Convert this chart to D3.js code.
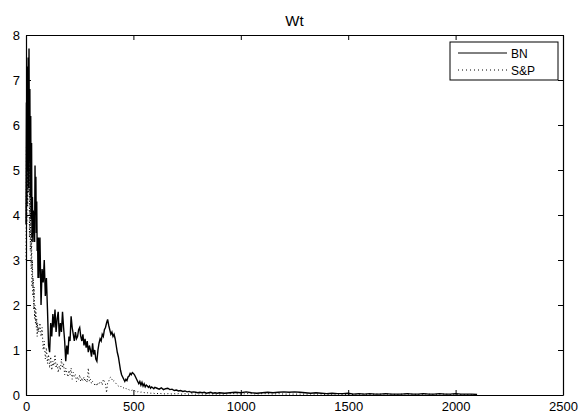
<!DOCTYPE html>
<html>
<head>
<meta charset="utf-8">
<script src="https://cdn.jsdelivr.net/npm/d3@7"></script>
<style>
  html, body { margin: 0; padding: 0; background: #fff; }
  svg { display: block; font-family: "Liberation Sans", Arial, Helvetica, sans-serif; }
</style>
</head>
<body>
<svg id="chart" width="581" height="416"></svg>
<script>
// ---------------- data ----------------
const title = "Wt";
const seriesNames = ["BN", "S&P"];
const xTicks = [0, 500, 1000, 1500, 2000, 2500];
const yTicks = [0, 1, 2, 3, 4, 5, 6, 7, 8];

// sampling segments: [start, step]
const segFirst = [0, 2];     // t = 0..58
const segEarly = [60, 5];    // t = 60..600
const segMid = [610, 10];    // t = 610..900
const segLate = [925, 25];   // t = 925..2100

const bnFirst = [3.8,6.5,4.2,7.3,5.0,7.5,4.6,7.7,5.2,6.8,4.4,6.2,3.9,5.6,3.5,4.4,3.4,4.1,3.6,3.9,
  3.4,5.1,4.0,4.85,3.6,4.3,3.2,3.5,2.6,3.5];
const bnEarly = [2.6,3.5,2.0,2.8,2.5,3.0,2.2,2.6,
  1.9,1.1,0.95,1.6,1.3,1.8,1.5,1.9,1.4,1.7,1.85,1.3,1.6,1.4,1.85,1.5,1.2,0.75,1.1,0.9,
  1.3,1.2,1.75,1.5,1.35,1.2,1.4,1.25,1.3,1.45,1.5,1.3,1.2,1.35,1.1,1.25,1.05,1.2,0.95,1.1,
  1.0,0.85,1.15,0.9,1.0,0.8,0.75,1.0,1.15,1.25,1.2,1.35,1.3,1.45,1.5,1.6,1.68,1.55,1.45,1.35,
  1.4,1.3,1.35,1.25,1.1,0.95,0.85,0.7,0.55,0.45,0.4,0.35,0.3,0.35,0.32,0.4,0.42,0.48,0.45,0.5,
  0.48,0.45,0.4,0.35,0.3,0.25,0.3,0.22,0.28,0.2,0.25,0.18,0.22,0.2,0.17,0.2,0.15,0.18,0.16,0.14,0.17];
const bnMid = [0.15,0.13,0.16,0.12,0.14,0.15,0.12,0.13,0.1,0.11,0.09,0.1,0.08,0.09,0.07,
  0.08,0.06,0.07,0.06,0.05,0.06,0.05,0.06,0.04,0.05,0.06,0.04,0.05,0.04,0.05];
const bnLate = [0.04,0.05,0.06,0.05,0.07,0.05,0.04,0.05,0.06,0.05,0.06,0.07,0.06,0.07,0.06,0.05,
  0.04,0.05,0.04,0.03,0.04,0.03,0.03,0.04,0.02,0.03,0.02,0.03,0.02,0.02,0.03,0.02,0.02,0.02,
  0.03,0.02,0.02,0.03,0.02,0.02,0.03,0.02,0.02,0.03,0.02,0.02,0.02,0.01];

const spFirst = [3.0,5.5,3.8,6.5,4.2,7.0,4.5,6.0,3.5,5.2,3.2,4.5,2.8,3.6,2.4,3.0,2.2,2.6,1.9,2.4,
  1.7,2.0,1.6,1.9,1.5,1.7,1.3,1.6,1.4,1.5];
const spEarly = [1.4,1.6,1.3,1.5,1.0,1.2,0.8,1.05,
  0.7,0.9,0.6,0.85,0.55,0.75,0.65,0.9,0.6,0.7,0.5,0.65,0.55,0.8,0.6,0.7,0.45,0.6,0.5,0.4,
  0.55,0.45,0.6,0.35,0.5,0.4,0.45,0.3,0.4,0.35,0.45,0.3,0.38,0.32,0.4,0.3,0.35,0.28,0.6,0.3,
  0.35,0.25,0.3,0.28,0.22,0.25,0.2,0.27,0.25,0.3,0.28,0.22,0.35,0.3,0.25,0.05,0.27,0.3,0.38,0.4,
  0.35,0.3,0.32,0.28,0.25,0.22,0.2,0.18,0.2,0.17,0.15,0.16,0.14,0.15,0.12,0.13,0.11,0.12,0.1,0.11,
  0.09,0.1,0.08,0.09,0.07,0.08,0.07,0.06,0.07,0.06,0.05,0.06,0.05,0.05,0.04,0.05,0.04,0.04,0.03,0.04,0.03];
const spMid = [0.03,0.04,0.03,0.03,0.02,0.03,0.03,0.02,0.03,0.02,0.03,0.02,0.02,0.03,0.02,
  0.02,0.03,0.02,0.02,0.02,0.03,0.02,0.02,0.02,0.03,0.02,0.02,0.02,0.02,0.02];
const spLate = [0.02,0.03,0.03,0.02,0.03,0.03,0.02,0.03,0.03,0.02,0.03,0.02,0.02,0.02,0.02,0.02,
  0.02,0.02,0.02,0.01,0.02,0.02,0.01,0.02,0.01,0.02,0.02,0.01,0.02,0.02,0.02,0.02,0.01,0.02,
  0.02,0.02,0.01,0.02,0.02,0.01,0.02,0.02,0.01,0.02,0.01,0.01,0.01,0.01];

// ---------------- build ----------------
function toPoints(segs) {
  const pts = [];
  segs.forEach(([seg, vals]) => {
    vals.forEach((v, i) => pts.push([seg[0] + i * seg[1], v]));
  });
  return pts;
}
const bn = toPoints([[segFirst, bnFirst], [segEarly, bnEarly], [segMid, bnMid], [segLate, bnLate]]);
const sp = toPoints([[segFirst, spFirst], [segEarly, spEarly], [segMid, spMid], [segLate, spLate]]);

const margin = { left: 26, right: 18, top: 35, bottom: 21 };
const W = 581, H = 416;
const svg = d3.select("#chart");
const x = d3.scaleLinear().domain([0, 2500]).range([margin.left, W - margin.right]);
const y = d3.scaleLinear().domain([0, 8]).range([H - margin.bottom, margin.top]);

const line = d3.line().x(d => x(d[0])).y(d => y(d[1]));

// series
svg.append("path").datum(sp)
  .attr("d", line).attr("fill", "none").attr("stroke", "#000")
  .attr("stroke-width", 1).attr("stroke-dasharray", "1,2.5");
svg.append("path").datum(bn)
  .attr("d", line).attr("fill", "none").attr("stroke", "#000")
  .attr("stroke-width", 1.4).attr("stroke-linejoin", "miter");

// axes (MATLAB style, inward ticks, boxed)
const tickLen = 5;
const fmt = d3.format("d");
const axB = d3.axisBottom(x).tickValues(xTicks).tickFormat(fmt).tickSizeInner(-tickLen).tickSizeOuter(0).tickPadding(7);
const axL = d3.axisLeft(y).tickValues(yTicks).tickFormat(fmt).tickSizeInner(-tickLen).tickSizeOuter(0).tickPadding(6);
const axT = d3.axisTop(x).tickValues(xTicks).tickSizeInner(-tickLen).tickSizeOuter(0).tickFormat("");
const axR = d3.axisRight(y).tickValues(yTicks).tickSizeInner(-tickLen).tickSizeOuter(0).tickFormat("");

function style(g) {
  g.selectAll("path.domain").attr("stroke", "#000").attr("stroke-width", 1.2);
  g.selectAll(".tick line").attr("stroke", "#000").attr("stroke-width", 1);
  g.selectAll(".tick text").attr("fill", "#000").attr("font-size", 13)
    .attr("font-family", "Liberation Sans, Arial, sans-serif");
}
svg.append("g").attr("transform", `translate(0,${y(0)})`).call(axB).call(style);
svg.append("g").attr("transform", `translate(${x(0)},0)`).call(axL).call(style);
svg.append("g").attr("transform", `translate(0,${y(8)})`).call(axT).call(style);
svg.append("g").attr("transform", `translate(${x(2500)},0)`).call(axR).call(style);

// title
svg.append("text").attr("x", (x(0) + x(2500)) / 2).attr("y", 26)
  .attr("text-anchor", "middle").attr("font-size", 15).attr("fill", "#000").text(title);

// legend
const lg = svg.append("g");
const lx = 450, ly = 42, lw = 108, lh = 38;
lg.append("rect").attr("x", lx).attr("y", ly).attr("width", lw).attr("height", lh)
  .attr("fill", "#fff").attr("stroke", "#000").attr("stroke-width", 1);
seriesNames.forEach((name, i) => {
  const yy = ly + 11 + i * 17;
  lg.append("line").attr("x1", lx + 8).attr("x2", lx + 57).attr("y1", yy).attr("y2", yy)
    .attr("stroke", "#000").attr("stroke-width", 1)
    .attr("stroke-dasharray", i === 1 ? "1,3" : null);
  lg.append("text").attr("x", lx + 61).attr("y", yy + 4.5).attr("font-size", 12)
    .attr("fill", "#000").text(name);
});
</script>
</body>
</html>
